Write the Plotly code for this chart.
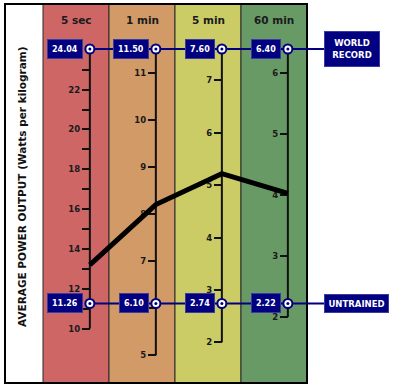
import plotly.graph_objects as go

# ---------------- data ----------------
durations = ["5 sec", "1 min", "5 min", "60 min"]
world_record = [24.04, 11.50, 7.60, 6.40]
untrained = [11.26, 6.10, 2.74, 2.22]
profile = [13.2, 8.2, 5.22, 4.03]
axis_bottom = [10, 5, 2, 2]
tick_values = [
    list(range(10, 24)),
    list(range(5, 12)),
    list(range(2, 8)),
    list(range(2, 7)),
]
tick_labels = [
    [str(v) if v % 2 == 0 else "" for v in tick_values[0]],
    [str(v) if v != 6 else "" for v in tick_values[1]],   # "6" sits under the 6.10 box
    [str(v) for v in tick_values[2]],
    [str(v) for v in tick_values[3]],
]
column_colors = ["#cf6666", "#d19a66", "#cccc66", "#689a66"]
y_title = "AVERAGE POWER OUTPUT (Watts per kilogram)"

# ---------------- layout geometry ----------------
W, H = 400, 389
COL_PX = 66.0          # column width in px
FIRST_CENTER = 76.0    # centre of first column in px
AX_OFF = 0.21          # axis position inside a column (category units)
NAVY = "#000080"
FONT = "DejaVu Sans"

x_lo = -FIRST_CENTER / COL_PX
x_hi = (W - FIRST_CENTER) / COL_PX
fW = 1 - 49 / H        # paper y of world-record line
fU = 1 - 303.5 / H     # paper y of untrained line
frame_top = 1 - 4 / H
frame_bot = 1 - 383 / H


def xpaper(xv):
    return (xv - x_lo) / (x_hi - x_lo)


def norm(v, k):
    return (v - untrained[k]) / (world_record[k] - untrained[k])


fig = go.Figure()

axis_names = ["y", "y2", "y3", "y4"]
layout_axes = {}
for k in range(4):
    span = world_record[k] - untrained[k]
    scale = (fW - fU) / span
    pad = 0.02 * span
    lo = axis_bottom[k] - pad
    hi = world_record[k] + pad
    d0 = fU + (lo - untrained[k]) * scale
    d1 = fU + (hi - untrained[k]) * scale
    key = "yaxis" if k == 0 else f"yaxis{k+1}"
    layout_axes[key] = dict(
        domain=[d0, d1], range=[lo, hi], anchor="free",
        position=xpaper(k + AX_OFF), side="left",
        showgrid=False, zeroline=False, showline=False,
        ticks="outside", ticklen=8, tickwidth=1.6, tickcolor="#111111",
        tickvals=tick_values[k], ticktext=tick_labels[k],
        tickfont=dict(family=FONT, size=8.5, color="#1a1a1a", weight="bold"),
        fixedrange=True,
    )
    # axis spine drawn from the bottom tick up to the world record value
    fig.add_trace(go.Scatter(
        x=[k + AX_OFF, k + AX_OFF], y=[axis_bottom[k], world_record[k]],
        xaxis="x", yaxis=axis_names[k], mode="lines",
        line=dict(color="#111111", width=2), hoverinfo="skip", showlegend=False,
    ))

# normalized axis (world record = 1, untrained = 0), drawn on top
n_lo = (0 - fU) / (fW - fU)
n_hi = (1 - fU) / (fW - fU)
layout_axes["yaxis5"] = dict(domain=[0, 1], range=[n_lo, n_hi], visible=False,
                             anchor="x", fixedrange=True)

ax_x = [k + AX_OFF for k in range(4)]
label_x = (324 - FIRST_CENTER) / COL_PX
line_end_x = label_x + 0.2

for vals in (world_record, untrained):
    fig.add_trace(go.Scatter(
        x=ax_x + [line_end_x], y=[norm(v, k) for k, v in enumerate(vals)] + [norm(vals[-1], 3)],
        xaxis="x", yaxis="y5", mode="lines",
        line=dict(color=NAVY, width=2), hoverinfo="skip", showlegend=False,
    ))

fig.add_trace(go.Scatter(
    x=ax_x, y=[norm(v, k) for k, v in enumerate(profile)],
    xaxis="x", yaxis="y5", mode="lines",
    line=dict(color="#000000", width=5), showlegend=False,
))

for vals in (world_record, untrained):
    ys = [norm(v, k) for k, v in enumerate(vals)]
    fig.add_trace(go.Scatter(
        x=ax_x, y=ys, xaxis="x", yaxis="y5", mode="markers",
        marker=dict(size=9, color="white", line=dict(color=NAVY, width=2)),
        hoverinfo="skip", showlegend=False,
    ))
    fig.add_trace(go.Scatter(
        x=ax_x, y=ys, xaxis="x", yaxis="y5", mode="markers",
        marker=dict(size=3, color=NAVY), hoverinfo="skip", showlegend=False,
    ))

# ---------------- shapes ----------------
shapes = []
for k in range(4):
    shapes.append(dict(type="rect", xref="x", yref="paper",
                       x0=k - 0.5, x1=k + 0.5, y0=frame_bot, y1=frame_top,
                       fillcolor=column_colors[k], line=dict(color="#2a2a2a", width=1),
                       layer="below"))
shapes.append(dict(type="rect", xref="x", yref="paper",
                   x0=(5 - FIRST_CENTER) / COL_PX, x1=3.5, y0=frame_bot, y1=frame_top,
                   line=dict(color="#000000", width=2), layer="below"))

# ---------------- annotations ----------------
ann = []
for k in range(4):
    ann.append(dict(x=k, y=1 - 20 / H, xref="x", yref="paper", text=durations[k],
                    xanchor="center", yanchor="middle",
                    showarrow=False, font=dict(family=FONT, size=10.5, color="#1a1a1a", weight="bold")))
    for vals in (world_record, untrained):
        ann.append(dict(x=k + AX_OFF, y=vals[k], xref="x", yref=axis_names[k],
                        text=f"{vals[k]:.2f}", showarrow=False, xanchor="right", xshift=-7,
                        yanchor="middle",
                        bgcolor=NAVY, bordercolor="#3a3aa0", borderwidth=1, borderpad=4,
                        height=10,
                        font=dict(family=FONT, size=8, color="white", weight="bold")))

ann.append(dict(x=label_x, y=world_record[3], xref="x", yref="y4",
                text="WORLD<br>RECORD", showarrow=False, xanchor="left", yanchor="middle",
                bgcolor=NAVY, bordercolor="#3a3aa0", borderwidth=1, borderpad=4,
                width=46, height=26,
                font=dict(family=FONT, size=8.5, color="white", weight="bold")))
ann.append(dict(x=label_x, y=untrained[3], xref="x", yref="y4",
                text="UNTRAINED", showarrow=False, xanchor="left", yanchor="middle",
                bgcolor=NAVY, bordercolor="#3a3aa0", borderwidth=1, borderpad=3,
                width=57, height=11,
                font=dict(family=FONT, size=8.5, color="white", weight="bold")))
ann.append(dict(x=22 / W, y=1 - 187 / H, xref="paper", yref="paper", text=y_title,
                xanchor="center", yanchor="middle",
                textangle=-90, showarrow=False,
                font=dict(family=FONT, size=10.5, color="#111111", weight="bold")))

fig.update_layout(
    width=W, height=H,
    margin=dict(l=0, r=0, t=0, b=0),
    paper_bgcolor="white", plot_bgcolor="rgba(0,0,0,0)",
    xaxis=dict(range=[x_lo, x_hi], visible=False, fixedrange=True, anchor="y5"),
    shapes=shapes, annotations=ann, showlegend=False,
    **layout_axes,
)

fig.write_html("out.html", config={"displayModeBar": False},
               post_script="document.body.style.margin='0px';")
